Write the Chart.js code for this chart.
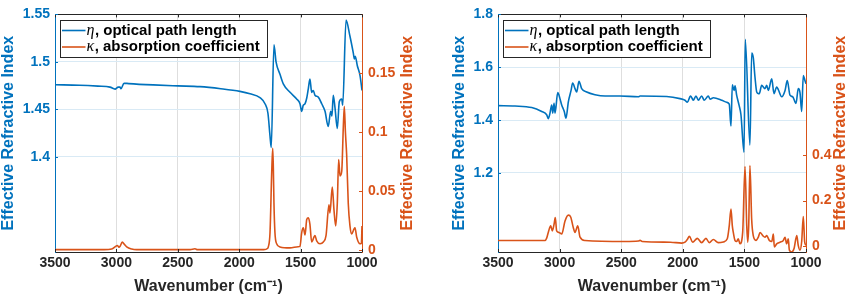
<!DOCTYPE html>
<html><head><meta charset="utf-8">
<script src="https://cdn.jsdelivr.net/npm/chart.js@4"></script>
<style>
html,body{margin:0;padding:0;background:#fff;}
#wrap{position:relative;width:850px;height:298px;overflow:hidden;}
canvas{position:absolute;top:0;}
#c1{left:0;} #c2{left:425px;}
</style></head><body>
<div id="wrap"><canvas id="c1" width="425" height="298"></canvas><canvas id="c2" width="425" height="298"></canvas></div>
<script>
// ---------- shared ----------
const xTickValues = [3500, 3000, 2500, 2000, 1500, 1000];
const seriesNames = ['optical path length', 'absorption coefficient'];
const seriesSymbols = ['\u03B7', '\u03BA'];
const yTitle = 'Effective Refractive Index';
const xTitle = 'Wavenumber (cm\u207B\u00B9)';

// ---------- left panel ----------
const leftEtaWn = [3500,3300,3150,3052,3011,2985,2971,2963,2938,2900,2700,2500,2319,2150,1994,1912,1831,1790,1766,1749,1739,1717,1700,1668,1641,1586,1532,1505,1491,1478,1464,1450,1437,1424,1410,1397,1383,1356,1328,1301,1275,1255,1245,1234,1220,1201,1185,1165,1157,1130,1098,1071,1062,1055,1038,1016,1000];
const leftEta   = [1.476,1.4755,1.4745,1.4735,1.4714,1.4735,1.4735,1.4718,1.4776,1.4772,1.4758,1.4748,1.474,1.4718,1.469,1.4665,1.4625,1.456,1.446,1.422,1.410,1.518,1.50,1.487,1.477,1.468,1.461,1.456,1.448,1.4545,1.456,1.462,1.472,1.482,1.468,1.470,1.465,1.463,1.456,1.448,1.432,1.448,1.443,1.465,1.452,1.430,1.458,1.461,1.4545,1.544,1.527,1.5095,1.503,1.506,1.496,1.4855,1.470];
const leftKappaWn = [3500,3100,3038,3003,2993,2976,2952,2935,2916,2875,2835,2400,2360,2340,1800,1770,1763,1749,1735,1727,1722,1717,1709,1695,1668,1586,1520,1505,1491,1478,1464,1450,1437,1424,1410,1383,1369,1342,1315,1293,1269,1261,1242,1228,1214,1201,1190,1179,1165,1152,1144,1135,1125,1112,1098,1084,1065,1057,1043,1016,1005,1000];
const leftKappa   = [0.0005,0.0005,0.001,0.0035,0.004,0.0025,0.0069,0.005,0.0028,0.001,0.0005,0.0005,0.0012,0.0005,0.0005,0.0015,0.0028,0.015,0.067,0.0865,0.070,0.040,0.015,0.0055,0.0028,0.0020,0.0030,0.0033,0.015,0.019,0.013,0.026,0.0275,0.022,0.007,0.0124,0.008,0.0055,0.007,0.0124,0.0385,0.0316,0.0536,0.034,0.0206,0.040,0.077,0.063,0.067,0.105,0.122,0.100,0.081,0.040,0.0206,0.0138,0.018,0.019,0.011,0.0055,0.006,0.0206];
const leftEtaTicks = [1.4, 1.45, 1.5, 1.55];
const leftKappaTicks = [0, 0.05, 0.1, 0.15];

// ---------- right panel ----------
const rightEtaWn = [3500,3362,3226,3145,3105,3092,3078,3064,3056,3045,3037,3015,2997,2983,2962,2948,2929,2907,2894,2875,2861,2843,2821,2780,2713,2631,2510,2360,2347,2131,2023,1982,1963,1942,1936,1915,1893,1874,1847,1826,1793,1779,1752,1684,1644,1623,1609,1598,1584,1576,1563,1544,1528,1503,1493,1455,1441,1428,1414,1400,1387,1379,1360,1333,1319,1306,1278,1260,1238,1225,1197,1170,1152,1130,1108,1081,1063,1049,1035,1022,1008,1000];
const rightEta   = [1.4544,1.453,1.447,1.432,1.420,1.405,1.426,1.457,1.426,1.463,1.426,1.504,1.481,1.457,1.432,1.407,1.469,1.512,1.540,1.519,1.506,1.547,1.519,1.506,1.496,1.491,1.491,1.488,1.491,1.489,1.481,1.475,1.467,1.488,1.491,1.475,1.491,1.475,1.491,1.475,1.491,1.479,1.484,1.475,1.467,1.460,1.377,1.533,1.512,1.530,1.494,1.457,1.420,1.278,1.706,1.305,1.654,1.636,1.562,1.506,1.500,1.500,1.531,1.519,1.531,1.512,1.556,1.500,1.525,1.515,1.488,1.512,1.549,1.494,1.488,1.463,1.519,1.505,1.432,1.568,1.549,1.537];
const rightKappaWn = [3500,3200,3119,3105,3092,3072,3059,3045,3035,3024,3005,2983,2956,2929,2910,2889,2875,2853,2834,2794,2469,2360,2347,2330,2100,2009,1982,1962,1947,1920,1882,1847,1812,1785,1752,1712,1671,1639,1623,1609,1598,1590,1576,1563,1550,1536,1514,1495,1481,1473,1465,1455,1441,1428,1406,1387,1373,1351,1333,1319,1298,1278,1265,1257,1238,1211,1184,1170,1157,1144,1135,1116,1097,1075,1063,1049,1035,1022,1011,1000];
const rightKappa   = [0.0245,0.0245,0.0245,0.035,0.060,0.089,0.067,0.096,0.125,0.067,0.060,0.053,0.110,0.136,0.128,0.082,0.060,0.089,0.039,0.0245,0.020,0.022,0.025,0.020,0.017,0.013,0.017,0.030,0.043,0.017,0.034,0.015,0.034,0.015,0.029,0.015,0.018,0.032,0.089,0.163,0.089,0.060,0.0245,0.020,0.032,0.010,0.060,0.350,0.089,0.017,0.089,0.354,0.118,0.046,0.025,0.039,0.060,0.046,0.039,0.046,0.025,0.020,0.053,-0.004,0.010,0.017,0.025,0.039,0.010,0.032,-0.018,-0.026,-0.011,0.046,0.003,-0.018,0.020,0.130,0.020,0.003];
const rightEtaTicks = [1.2, 1.4, 1.6, 1.8];
const rightKappaTicks = [0, 0.2, 0.4];

// ---------- styles ----------
const BLUE = '#0072BD', ORANGE = '#D95319', AXIS = '#262626';
const FONT = '"Liberation Sans", Arial, Helvetica, sans-serif';

function pts(xs, ys) { return xs.map((x, i) => ({x: x, y: ys[i]})); }
const fmt = v => String(Math.round(v * 10000) / 10000);

function decorPlugin(cfg) {
  return {
    id: 'decor',
    afterDraw(chart) {
      const {ctx, chartArea: a, scales} = chart;
      ctx.save();
      ctx.lineWidth = 1;
      ctx.strokeStyle = AXIS;
      ctx.beginPath(); ctx.moveTo(a.left, Math.round(a.top) + 0.5); ctx.lineTo(a.right, Math.round(a.top) + 0.5); ctx.stroke();
      const tl = 3;
      scales.x.ticks.forEach(t => {
        const px = Math.round(scales.x.getPixelForValue(t.value)) + 0.5;
        ctx.beginPath();
        ctx.moveTo(px, a.top); ctx.lineTo(px, a.top + tl);
        ctx.moveTo(px, a.bottom); ctx.lineTo(px, a.bottom - tl);
        ctx.stroke();
      });
      ctx.strokeStyle = BLUE;
      scales.yL.ticks.forEach(t => {
        const py = Math.round(scales.yL.getPixelForValue(t.value)) + 0.5;
        ctx.beginPath(); ctx.moveTo(a.left, py); ctx.lineTo(a.left + tl, py); ctx.stroke();
      });
      ctx.strokeStyle = ORANGE;
      scales.yR.ticks.forEach(t => {
        const py = Math.round(scales.yR.getPixelForValue(t.value)) + 0.5;
        ctx.beginPath(); ctx.moveTo(a.right, py); ctx.lineTo(a.right - tl, py); ctx.stroke();
      });
      ctx.save();
      ctx.translate(cfg.rightTitleX, (a.top + a.bottom) / 2);
      ctx.rotate(-Math.PI / 2);
      ctx.font = 'bold 16px ' + FONT;
      ctx.fillStyle = ORANGE;
      ctx.textAlign = 'center';
      ctx.textBaseline = 'middle';
      ctx.fillText(yTitle, 0, 0);
      ctx.restore();
      const bx = Math.round(a.left + 5) + 0.5, by = Math.round(a.top + 6) + 0.5, bw = 207, bh = 37;
      ctx.fillStyle = '#fff';
      ctx.fillRect(bx, by, bw, bh);
      ctx.strokeStyle = AXIS; ctx.lineWidth = 1;
      ctx.strokeRect(bx, by, bw, bh);
      const colors = [BLUE, ORANGE];
      const rows = [by + 10, by + 26.5];
      for (let i = 0; i < 2; i++) {
        ctx.strokeStyle = colors[i]; ctx.lineWidth = 1.6;
        ctx.beginPath(); ctx.moveTo(bx + 1.5, rows[i]); ctx.lineTo(bx + 25, rows[i]); ctx.stroke();
        ctx.fillStyle = '#000';
        ctx.textBaseline = 'middle'; ctx.textAlign = 'left';
        ctx.font = 'italic 16px "Liberation Serif", "DejaVu Serif", serif';
        ctx.fillText(seriesSymbols[i], bx + 26, rows[i]);
        const w = ctx.measureText(seriesSymbols[i]).width;
        ctx.font = 'bold 15px ' + FONT;
        ctx.fillText(', ' + seriesNames[i], bx + 26 + w + 0.5, rows[i]);
      }
      ctx.restore();
    }
  };
}

function makeChart(id, p) {
  return new Chart(document.getElementById(id), {
    type: 'line',
    data: {
      datasets: [
        {label: seriesNames[0], data: pts(p.etaWn, p.eta), yAxisID: 'yL', borderColor: BLUE, borderWidth: 1.6, pointRadius: 0, cubicInterpolationMode: 'monotone', fill: false, order: 1},
        {label: seriesNames[1], data: pts(p.kWn, p.k), yAxisID: 'yR', borderColor: ORANGE, borderWidth: 1.6, pointRadius: 0, cubicInterpolationMode: 'monotone', fill: false, order: 2}
      ]
    },
    options: {
      responsive: false, animation: false, devicePixelRatio: 1,
      layout: {padding: {top: 9, left: 0, right: 0, bottom: 0}},
      plugins: {legend: {display: false}, tooltip: {enabled: false}},
      scales: {
        x: {
          type: 'linear', reverse: true, min: 1000, max: 3500,
          afterBuildTicks: s => { s.ticks = xTickValues.map(v => ({value: v})); },
          afterFit: s => { s.height = 46; },
          ticks: {color: AXIS, font: {family: FONT, size: 14, weight: 'bold'}, padding: 3, maxRotation: 0, autoSkip: false, callback: v => fmt(v)},
          grid: {color: '#DEDEDE', drawTicks: false},
          border: {color: AXIS, width: 1},
          title: {display: true, text: xTitle, color: AXIS, font: {family: FONT, size: 16, weight: 'bold'}, padding: {top: 0, bottom: 2}}
        },
        yL: {
          type: 'linear', position: 'left', min: p.lMin, max: p.lMax,
          afterBuildTicks: s => { s.ticks = p.lTicks.map(v => ({value: v})); },
          afterFit: s => { s.width = p.leftW; },
          ticks: {color: BLUE, font: {family: FONT, size: 14, weight: 'bold'}, padding: 5, autoSkip: false, callback: v => fmt(v)},
          grid: {color: '#D9EAF5', drawTicks: false},
          border: {color: BLUE, width: 1},
          title: {display: true, text: yTitle, color: BLUE, font: {family: FONT, size: 16, weight: 'bold'}, padding: {top: p.leftTitlePad, bottom: 0}}
        },
        yR: {
          type: 'linear', position: 'right', min: p.rMin, max: p.rMax,
          afterBuildTicks: s => { s.ticks = p.rTicks.map(v => ({value: v})); },
          afterFit: s => { s.width = p.rightW; },
          ticks: {color: ORANGE, font: {family: FONT, size: 14, weight: 'bold'}, padding: 6, autoSkip: false, callback: v => fmt(v)},
          grid: {drawOnChartArea: false, drawTicks: false},
          border: {color: ORANGE, width: 1}
        }
      }
    },
    plugins: [decorPlugin({rightTitleX: p.rightTitleX})]
  });
}

makeChart('c1', {
  etaWn: leftEtaWn, eta: leftEta, kWn: leftKappaWn, k: leftKappa,
  lMin: 1.3, lMax: 1.55, lTicks: leftEtaTicks,
  rMin: -0.0015, rMax: 0.2, rTicks: leftKappaTicks,
  leftW: 55, rightW: 63, leftTitlePad: -1, rightTitleX: 408
});
makeChart('c2', {
  etaWn: rightEtaWn, eta: rightEta, kWn: rightKappaWn, k: rightKappa,
  lMin: 0.9, lMax: 1.8, lTicks: rightEtaTicks,
  rMin: -0.026, rMax: 1.018, rTicks: rightKappaTicks,
  leftW: 73, rightW: 44, leftTitlePad: 25, rightTitleX: 416
});
</script>
</body></html>
